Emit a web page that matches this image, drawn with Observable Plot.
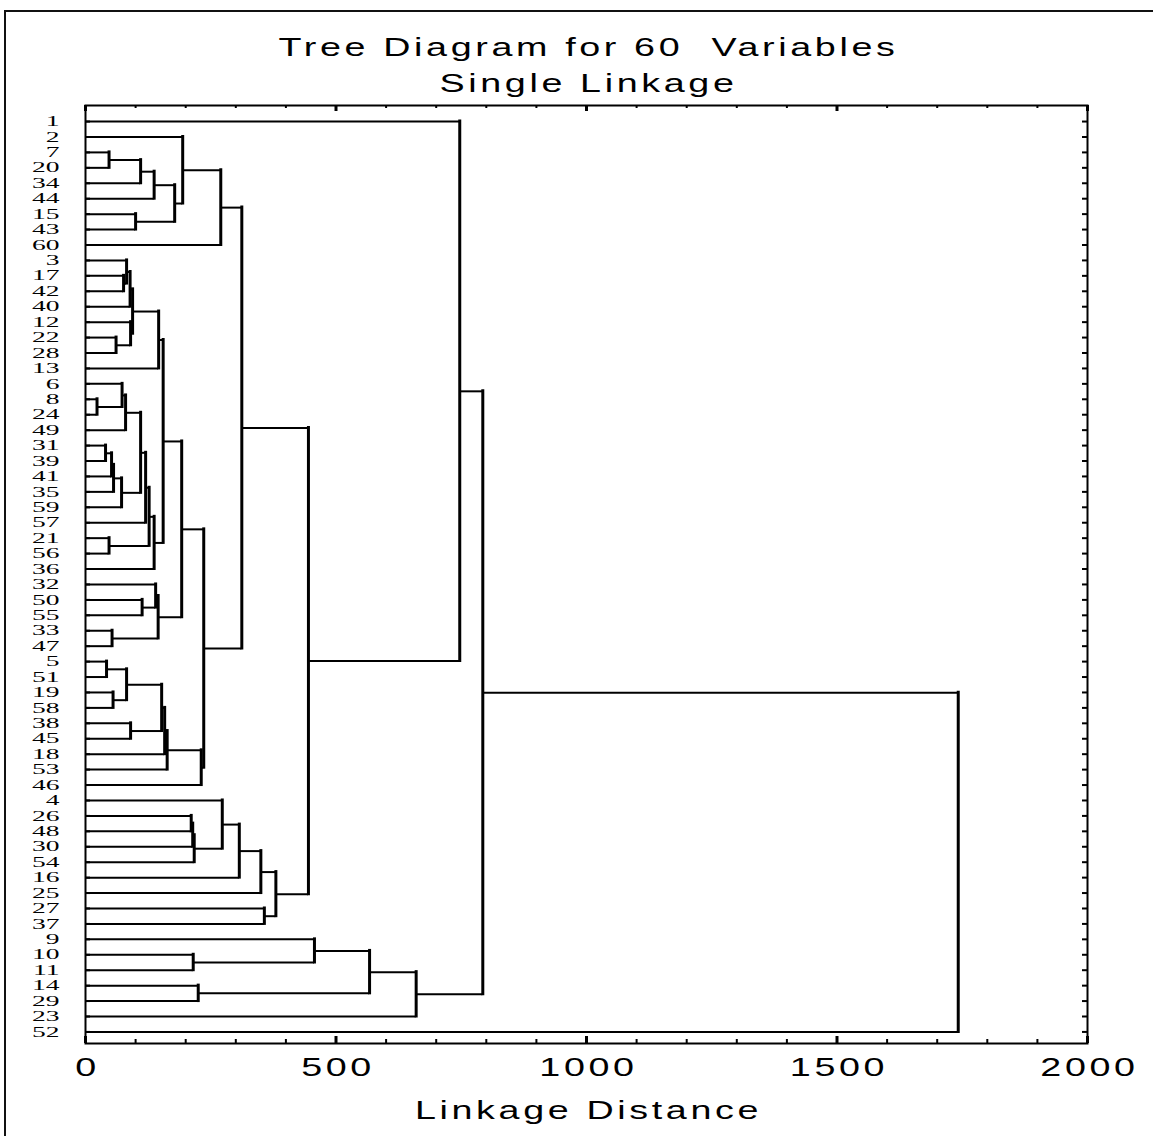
<!DOCTYPE html>
<html><head><meta charset="utf-8">
<script src="https://cdn.jsdelivr.net/npm/d3@7"></script>
<script src="https://cdn.jsdelivr.net/npm/@observablehq/plot@0.6"></script>
<style>
html,body{margin:0;padding:0;background:#fff;}
#wrap{position:relative;width:1153px;height:1136px;overflow:hidden;}
#border{position:absolute;left:4px;top:10px;right:-10px;bottom:-10px;border-left:2px solid #111;border-top:2px solid #111;}
#chart{position:absolute;left:0;top:0;}
</style></head><body>
<div id="wrap"><div id="border"></div><div id="chart"></div></div>
<script>
const title = "Tree Diagram for 60  Variables";
const subtitle = "Single Linkage";
const xLabel = "Linkage Distance";
const xTickLabels = [0, 500, 1000, 1500, 2000];
const xMinorTicks = [100,200,300,400,600,700,800,900,1100,1200,1300,1400,1600,1700,1800,1900];

// leaf order, top to bottom
const leaves = ["1","2","7","20","34","44","15","43","60","3","17","42","40","12","22","28","13",
  "6","8","24","49","31","39","41","35","59","57","21","56","36","32","50","55","33","47",
  "5","51","19","58","38","45","18","53","46","4","26","48","30","54","16","25","27","37",
  "9","10","11","14","29","23","52"];

// merges: "#k" refers to the cluster formed by merge k
const mergeLeft = ["7","#0","#1","15","#2","2","#5",
  "17","3","#8","22","12","#9","#12",
  "8","6","#15","31","#17","#18","#19","#16","#21","21","#22","#24","#13",
  "50","32","33","#28","#26",
  "5","19","#32","38","#34","#36","#37","#38","#31","#6",
  "26","#42","#43","4","#45","#46","27","#47","#41","1",
  "10","9","14","#53","#55","#51","#57"];
const mergeRight = ["20","34","44","43","#3","#4","60",
  "42","#7","40","28","#10","#11","13",
  "24","#14","49","39","41","35","59","#20","57","56","#23","36","#25",
  "55","#27","47","#29","#30",
  "51","58","#33","45","#35","18","53","46","#39","#40",
  "48","30","54","#44","16","25","37","#48","#49","#50",
  "11","#52","29","#54","23","#56","52"];
const mergeDistance = [47,110,137,100,178,194,270,
  76,82,89,61,90,94,146,
  23,73,80,40,52,56,72,110,120,47,127,137,155,
  113,140,53,145,192,
  42,55,82,90,152,158,163,231,236,312,
  211,214,217,273,307,350,357,380,445,747,
  215,457,225,567,660,793,1742];

// build dendrogram segments from the merge table
const nodes = new Map(leaves.map((l, i) => [l, {pos: i, h: 0}]));
const clusters = [];
const get = r => r.startsWith("#") ? clusters[+r.slice(1)] : nodes.get(r);
const hSegs = [], vSegs = [];
mergeLeft.forEach((a, k) => {
  const A = get(a), B = get(mergeRight[k]), h = mergeDistance[k];
  hSegs.push({y: A.pos, x1: A.h, x2: h}, {y: B.pos, x1: B.h, x2: h});
  vSegs.push({x: h, y1: A.pos, y2: B.pos});
  clusters.push({pos: (A.pos + B.pos) / 2, h});
});

const W = 1153, H = 1136, mL = 85, mR = 66, mT = 105, mB = 93;
const FH = H - mT - mB, FW = W - mL - mR;
const leafIdx = d3.range(leaves.length);

const chart = Plot.plot({
  width: W, height: H, marginLeft: mL, marginRight: mR, marginTop: mT, marginBottom: mB,
  x: {domain: [0, 2000]},
  y: {domain: [-1.04, 59.75], reverse: true},
  style: {background: "transparent", fontFamily: "Liberation Sans, Arial, sans-serif", color: "#000"},
  marks: [
    Plot.ruleY(hSegs, {y: "y", x1: "x1", x2: "x2", stroke: "#000", strokeWidth: 2}),
    Plot.ruleX(vSegs, {x: "x", y1: "y1", y2: "y2", stroke: "#000", strokeWidth: 3, strokeLinecap: "square"}),
    Plot.frame({stroke: "#000", strokeWidth: 2}),
    Plot.tickX(xMinorTicks, {x: d => d, insetTop: FH - 4, stroke: "#000", strokeWidth: 2}),
    Plot.tickX(xTickLabels, {x: d => d, insetTop: FH - 7, stroke: "#000", strokeWidth: 3}),
    Plot.tickX(xMinorTicks, {x: d => d, insetBottom: FH - 3, stroke: "#000", strokeWidth: 2}),
    Plot.tickX(xTickLabels, {x: d => d, insetBottom: FH - 6, stroke: "#000", strokeWidth: 3}),
    Plot.tickY(leafIdx, {y: d => d, insetRight: FW - 5, stroke: "#000", strokeWidth: 2}),
    Plot.tickY(leafIdx, {y: d => d, insetLeft: FW - 5, stroke: "#000", strokeWidth: 2}),
    Plot.axisX({ticks: xTickLabels, tickSize: 0, tickPadding: 14, fontSize: 26, label: null, tickFormat: d => String(d)}),
    Plot.axisY({ticks: leafIdx, tickFormat: i => leaves[i], tickSize: 0, tickPadding: 26,
      fontSize: 14.5, fontFamily: "Liberation Serif, Times New Roman, serif", label: null}),
    Plot.text([xLabel], {text: d => d, frameAnchor: "bottom", dy: 75, fontSize: 26}),
    Plot.text([title], {text: d => d, frameAnchor: "top", dy: -68, fontSize: 26}),
    Plot.text([subtitle], {text: d => d, frameAnchor: "top", dy: -32, fontSize: 26})
  ]
});

// the original glyphs are widened and slightly spaced out
chart.querySelectorAll("text").forEach(t => {
  const leaf = !!t.closest('[aria-label="y-axis tick label"]');
  const s = leaf ? 1.9 : 1.45;
  let tr = t.getAttribute("transform");
  if (tr == null) {
    const x = t.getAttribute("x") || 0;
    t.removeAttribute("x");
    tr = `translate(${x},0)`;
  }
  if (!leaf) { tr += " translate(2,0)"; t.style.letterSpacing = "2.5px"; }
  t.setAttribute("transform", tr + ` scale(${s},1)`);
  t.style.whiteSpace = "pre";
});
document.getElementById("chart").appendChild(chart);
</script>
</body></html>
